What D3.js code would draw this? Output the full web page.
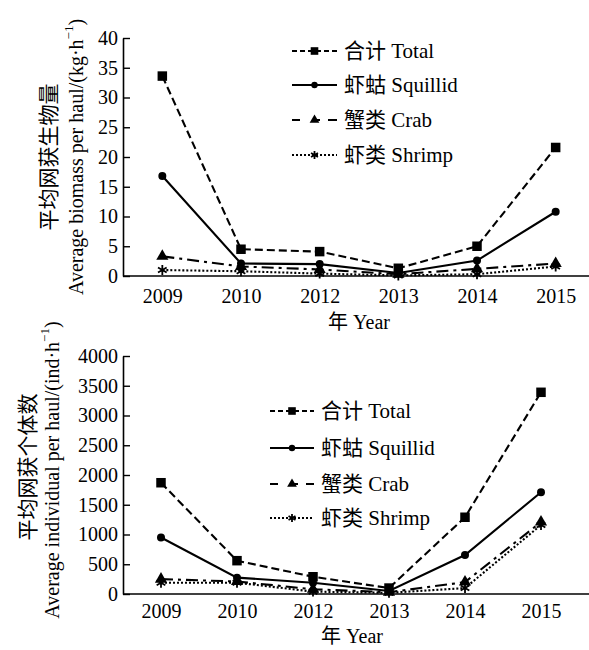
<!DOCTYPE html>
<html>
<head>
<meta charset="utf-8">
<script src="https://cdn.jsdelivr.net/npm/d3@7"></script>
<style>
  html, body { margin: 0; padding: 0; background: #fff; }
  svg { display: block; }
  svg text { font-family: "Liberation Serif", "Times New Roman", Times, "DejaVu Serif", "Noto Sans CJK SC", serif; fill: #000; }
</style>
</head>
<body>
<svg id="chart" width="589" height="650"></svg>
<script>
// Survey years (x categories)
const years = ["2009", "2010", "2012", "2013", "2014", "2015"];

// Average biomass per haul (kg·h⁻¹)
const biomassTotal    = [33.6, 4.5, 4.1, 1.3, 5.0, 21.6];
const biomassSquillid = [16.8, 2.1, 2.0, 0.5, 2.6, 10.8];
const biomassCrab     = [3.3, 1.6, 1.1, 0.3, 1.2, 2.1];
const biomassShrimp   = [1.0, 0.8, 0.4, 0.1, 0.3, 1.6];

// Average individuals per haul (ind·h⁻¹)
const countTotal    = [1870, 560, 290, 100, 1290, 3390];
const countSquillid = [950, 275, 190, 50, 655, 1710];
const countCrab     = [250, 210, 80, 30, 200, 1210];
const countShrimp   = [190, 190, 40, 20, 100, 1160];

// Axis tick values
const biomassTicks = [0, 5, 10, 15, 20, 25, 30, 35, 40];
const countTicks = [0, 500, 1000, 1500, 2000, 2500, 3000, 3500, 4000];

// Legend labels
const seriesNames = ["合计 Total", "虾蛄 Squillid", "蟹类 Crab", "虾类 Shrimp"];

const LATIN = '"Liberation Serif", "Times New Roman", Times, "DejaVu Serif", serif';
const CJK = '"Noto Sans CJK SC", sans-serif';

const svg = d3.select("#chart");

// Line/marker styling per series
const styles = [
  { dash: "8,4", marker: "square" },
  { dash: null, marker: "circle" },
  { dash: "12,5,3,5", marker: "triangle" },
  { dash: "2,2", marker: "asterisk" }
];

function drawMarker(g, type, x, y, scale) {
  const s = scale || 1;
  if (type === "square") {
    const a = 9.5 * s;
    g.append("rect").attr("x", x - a / 2).attr("y", y - a / 2)
      .attr("width", a).attr("height", a).attr("fill", "#000");
  } else if (type === "circle") {
    g.append("circle").attr("cx", x).attr("cy", y).attr("r", 4 * s).attr("fill", "#000");
  } else if (type === "triangle") {
    g.append("path").attr("transform", `translate(${x},${y})`)
      .attr("d", d3.symbol(d3.symbolTriangle, 64 * s * s)()).attr("fill", "#000");
  } else {
    g.append("path").attr("transform", `translate(${x},${y})`)
      .attr("d", d3.symbol(d3.symbolAsterisk, 70 * s * s)())
      .attr("fill", "none").attr("stroke", "#000").attr("stroke-width", 1.8);
  }
}

// Writes "中文 English" with separate fonts for the two scripts
function mixedText(sel, cn, en) {
  sel.append("tspan").style("font-family", CJK).text(cn);
  sel.append("tspan").style("font-family", LATIN).text(" " + en);
}

function drawPanel(opts) {
  const x = d3.scalePoint().domain(years).range([opts.x0, opts.x1]).padding(0.5);
  const y = d3.scaleLinear().domain([0, opts.max]).range([opts.y0, opts.y1]);
  const g = svg.append("g");

  // y axis with inward ticks
  const ya = g.append("g").attr("transform", `translate(${opts.x0},0)`)
    .call(d3.axisLeft(y).tickValues(opts.ticks).tickFormat(d3.format("d"))
      .tickSizeInner(-7).tickSizeOuter(0).tickPadding(5));
  ya.attr("font-family", null);
  ya.select(".domain").attr("stroke-width", 1.6);
  ya.selectAll(".tick line").attr("stroke-width", 1.4);
  ya.selectAll("text").style("font-size", "20px").style("font-family", LATIN);

  // x axis: plain baseline with year labels
  const xa = g.append("g").attr("transform", `translate(0,${opts.y0})`)
    .call(d3.axisBottom(x).tickSize(0).tickPadding(opts.xPad));
  xa.attr("font-family", null);
  xa.select(".domain").attr("d", `M${opts.x0},0H589`).attr("stroke-width", 1.6);
  xa.selectAll("text").style("font-size", "20px").style("font-family", LATIN);

  // x title
  const xt = g.append("text").attr("x", opts.xTitleX).attr("y", opts.xTitleY)
    .attr("text-anchor", "middle").style("font-size", "20px");
  mixedText(xt, "年", "Year");

  // y titles (two rotated lines)
  g.append("text").attr("transform", `translate(${opts.cnX},${opts.cnY}) rotate(-90)`)
    .attr("text-anchor", "middle").attr("dominant-baseline", "central")
    .style("font-size", "21px").style("font-family", CJK).text(opts.cnTitle);
  const en = g.append("text").attr("transform", `translate(${opts.enX},${opts.enY}) rotate(-90)`)
    .attr("text-anchor", "middle").attr("dominant-baseline", "central")
    .style("font-size", "20px").style("font-family", LATIN);
  en.append("tspan").text(opts.enTitle);
  en.append("tspan").attr("baseline-shift", "super").style("font-size", "13px").text("−1");
  en.append("tspan").text(")");

  // series lines, drawn back to front
  const line = d3.line().x((d, i) => x(years[i])).y(d => y(d));
  const order = [3, 2, 1, 0];
  order.forEach(k => {
    const st = styles[k];
    g.append("path").datum(opts.series[k]).attr("d", line)
      .attr("fill", "none").attr("stroke", "#000").attr("stroke-width", 2.1)
      .attr("stroke-dasharray", st.dash);
  });
  order.forEach(k => {
    opts.series[k].forEach((v, i) => drawMarker(g, styles[k].marker, x(years[i]), y(v), 1));
  });

  // legend
  seriesNames.forEach((name, k) => {
    const ly = opts.legY[k];
    const st = styles[k];
    g.append("line").attr("x1", opts.legX0).attr("x2", opts.legX1).attr("y1", ly).attr("y2", ly)
      .attr("stroke", "#000").attr("stroke-width", 2)
      .attr("stroke-dasharray", k === 0 ? "5,3" : k === 2 ? "8,12,8" : k === 3 ? "2,2" : null);
    drawMarker(g, st.marker, (opts.legX0 + opts.legX1) / 2, ly, 0.8);
    const parts = name.split(" ");
    const t = g.append("text").attr("x", opts.legX1 + 7).attr("y", ly + 7)
      .style("font-size", "21px");
    mixedText(t, parts[0], parts[1]);
  });
}

// Biomass panel
drawPanel({
  x0: 123, x1: 595, y0: 276, y1: 38, max: 40, ticks: biomassTicks, xPad: 13,
  series: [biomassTotal, biomassSquillid, biomassCrab, biomassShrimp],
  xTitleX: 359, xTitleY: 329,
  cnTitle: "平均网获生物量", cnX: 47, cnY: 157,
  enTitle: "Average biomass per haul/(kg·h", enX: 76, enY: 157,
  legX0: 292, legX1: 337, legY: [51, 85, 120, 155]
});

// Individual count panel
drawPanel({
  x0: 123, x1: 579, y0: 594, y1: 356, max: 4000, ticks: countTicks, xPad: 10,
  series: [countTotal, countSquillid, countCrab, countShrimp],
  xTitleX: 352, xTitleY: 643,
  cnTitle: "平均网获个体数", cnX: 26, cnY: 467,
  enTitle: "Average individual per haul/(ind·h", enX: 52, enY: 470,
  legX0: 270, legX1: 314, legY: [411, 448, 484, 518]
});
</script>
</body>
</html>
